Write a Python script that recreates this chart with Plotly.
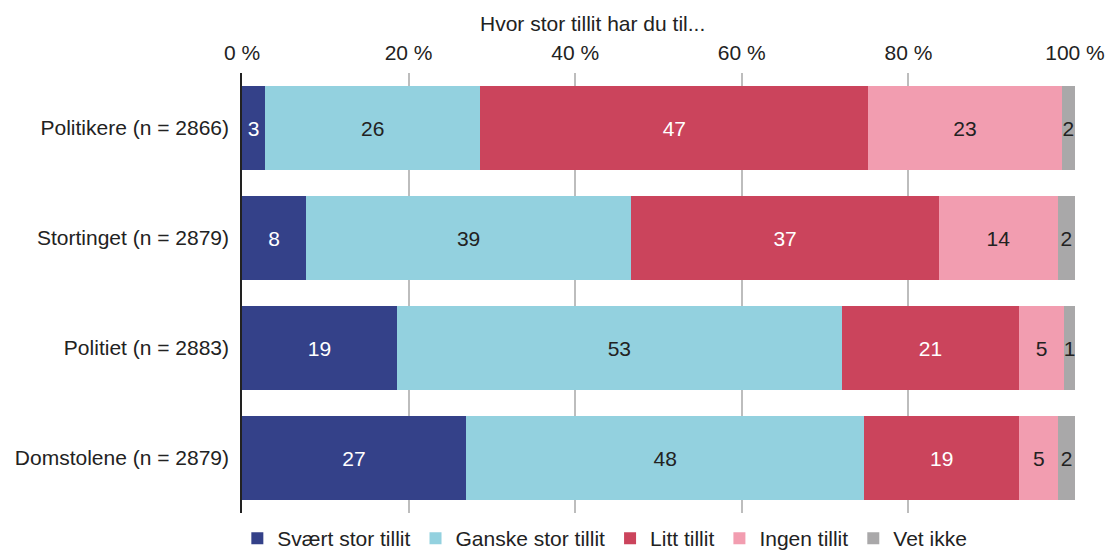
import plotly.graph_objects as go

# Institutions (top to bottom) and share of respondents per answer, in percent
institusjoner = [
    "Politikere (n = 2866)",
    "Stortinget (n = 2879)",
    "Politiet (n = 2883)",
    "Domstolene (n = 2879)",
]
svaert_stor = [2.8, 7.7, 18.6, 26.9]
ganske_stor = [25.8, 39.0, 53.4, 47.8]
litt = [46.6, 37.0, 21.3, 18.6]
ingen = [23.2, 14.2, 5.4, 4.7]
vet_ikke = [1.6, 2.1, 1.3, 2.0]

x_ticks = [0, 20, 40, 60, 80, 100]
x_tick_labels = ["0 %", "20 %", "40 %", "60 %", "80 %", "100 %"]

FONT = "Arial, Liberation Sans, sans-serif"
SIZE = 21

serier = [
    ("Svært stor tillit", svaert_stor, "#344189", "white"),
    ("Ganske stor tillit", ganske_stor, "#93D1DF", "#222222"),
    ("Litt tillit", litt, "#CB445C", "white"),
    ("Ingen tillit", ingen, "#F29DB0", "#222222"),
    ("Vet ikke", vet_ikke, "#A9A8A9", "#222222"),
]

fig = go.Figure()
for navn, verdier, farge, tekstfarge in serier:
    fig.add_trace(go.Bar(
        name=navn,
        y=institusjoner,
        x=verdier,
        orientation="h",
        marker=dict(color=farge, line=dict(width=0)),
        texttemplate="%{x:.0f}",
        textposition="inside",
        insidetextanchor="middle",
        textangle=0,
        textfont=dict(family=FONT, size=SIZE, color=tekstfarge),
        hoverinfo="skip",
    ))

fig.update_layout(
    barmode="stack",
    bargap=0.236,
    width=1118,
    height=554,
    margin=dict(l=242, r=43, t=73, b=41, autoexpand=False),
    paper_bgcolor="white",
    plot_bgcolor="white",
    font=dict(family=FONT, size=SIZE, color="#222222"),
    uniformtext=dict(minsize=SIZE, mode="show"),
    showlegend=True,
    legend=dict(
        orientation="h",
        xref="container",
        yref="container",
        x=0.541,
        xanchor="center",
        y=0.028,
        yanchor="middle",
        font=dict(family=FONT, size=SIZE, color="#222222"),
        traceorder="normal",
        itemwidth=30,
        bgcolor="rgba(0,0,0,0)",
    ),
    xaxis=dict(
        side="top",
        range=[0, 100],
        tickmode="array",
        tickvals=x_ticks,
        ticktext=x_tick_labels,
        showgrid=True,
        gridcolor="#BDBDBD",
        gridwidth=1.5,
        zeroline=False,
        showline=False,
        ticks="",
        ticklabelstandoff=8,
        tickfont=dict(family=FONT, size=SIZE, color="#222222"),
        fixedrange=True,
    ),
    yaxis=dict(
        categoryorder="array",
        categoryarray=institusjoner,
        autorange="reversed",
        showgrid=False,
        zeroline=False,
        showline=True,
        linecolor="#222222",
        linewidth=1.5,
        ticks="",
        ticklabelstandoff=7,
        tickfont=dict(family=FONT, size=SIZE, color="#222222"),
        fixedrange=True,
    ),
    annotations=[dict(
        text="Hvor stor tillit har du til...",
        xref="paper", yref="paper",
        x=0.421, y=1.0,
        yshift=50,
        xanchor="center", yanchor="middle",
        showarrow=False,
        font=dict(family=FONT, size=SIZE, color="#222222"),
    )],
)

fig.write_html("out.html")
